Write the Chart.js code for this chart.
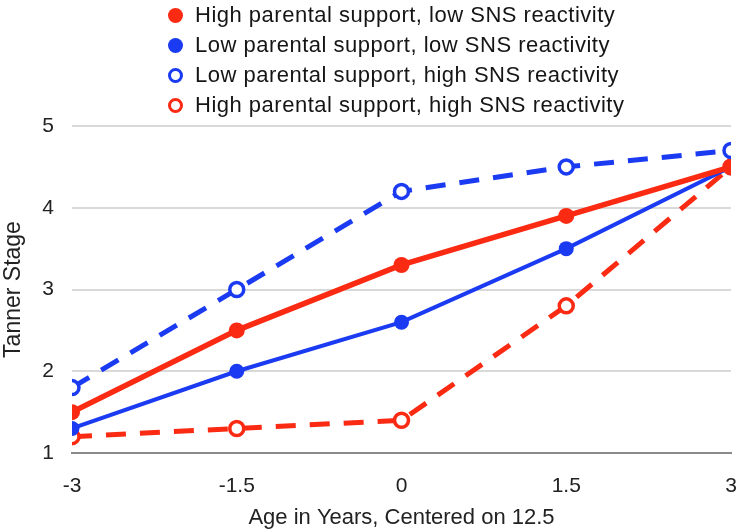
<!DOCTYPE html>
<html>
<head>
<meta charset="utf-8">
<script src="https://cdn.jsdelivr.net/npm/chart.js@4"></script>
<style>
    html, body { margin: 0; padding: 0; background: #fff; }
    #wrap { position: relative; width: 746px; height: 531px; }
    #legend {
        position: absolute; left: 168px; top: 0px;
        font-family: "Liberation Sans", Arial, sans-serif; font-size: 22px; letter-spacing: 0.5px; color: #151515;
    }
    .item { height: 30px; line-height: 30px; display: flex; align-items: center; }
    .dot { width: 15px; height: 15px; border-radius: 50%; box-sizing: border-box; margin-right: 12px; }
</style>
</head>
<body>
<div id="wrap">
    <canvas id="chart" width="746" height="531"></canvas>
    <div id="legend"></div>
</div>
<script>
// Tanner stage by age, four groups
const ages = [-3, -1.5, 0, 1.5, 3];
const seriesNames = [
    'High parental support, low SNS reactivity',
    'Low parental support, low SNS reactivity',
    'Low parental support, high SNS reactivity',
    'High parental support, high SNS reactivity'
];
const highPsLowSns = [1.5, 2.5, 3.3, 3.9, 4.5];
const lowPsLowSns = [1.3, 2.0, 2.6, 3.5, 4.5];
const lowPsHighSns = [1.8, 3.0, 4.2, 4.5, 4.7];
const highPsHighSns = [1.2, 1.3, 1.4, 2.8, 4.5];
const yTicks = [1, 2, 3, 4, 5];

const RED = '#fb2a12';
const BLUE = '#1b3bf2';
const FONT = '"Liberation Sans", Arial, sans-serif';

function pts(vals) {
    return vals.map((v, i) => ({ x: ages[i], y: v }));
}

const datasets = [
    {
        label: seriesNames[0], data: pts(highPsLowSns),
        borderColor: RED, backgroundColor: RED, borderWidth: 5.5,
        pointRadius: 8, pointBackgroundColor: RED, pointBorderWidth: 0, filled: true
    },
    {
        label: seriesNames[1], data: pts(lowPsLowSns),
        borderColor: BLUE, backgroundColor: BLUE, borderWidth: 4,
        pointRadius: 7.5, pointBackgroundColor: BLUE, pointBorderWidth: 0, filled: true
    },
    {
        label: seriesNames[2], data: pts(lowPsHighSns),
        borderColor: BLUE, backgroundColor: '#fff', borderWidth: 5, borderDash: [20, 14],
        pointRadius: 7, pointBackgroundColor: '#fff', pointBorderColor: BLUE, pointBorderWidth: 3.5, filled: false
    },
    {
        label: seriesNames[3], data: pts(highPsHighSns),
        borderColor: RED, backgroundColor: '#fff', borderWidth: 5, borderDash: [20, 14],
        pointRadius: 7, pointBackgroundColor: '#fff', pointBorderColor: RED, pointBorderWidth: 3.5, filled: false
    }
];

const chart = new Chart(document.getElementById('chart'), {
    type: 'line',
    data: { datasets: datasets },
    options: {
        responsive: false,
        animation: false,
        layout: { autoPadding: false, padding: { top: 126, right: 15, left: 0, bottom: 0 } },
        plugins: { legend: { display: false }, tooltip: { enabled: false } },
        scales: {
            x: {
                type: 'linear', min: -3, max: 3,
                afterBuildTicks: s => { s.ticks = ages.map(v => ({ value: v })); },
                afterFit: s => { s.height = 78; s.paddingRight = 0; s.paddingLeft = 0; },
                grid: { display: false },
                border: { display: true, color: '#8a8a8a', width: 2 },
                ticks: { color: '#222', font: { family: FONT, size: 21 }, padding: 13, autoSkip: false, maxRotation: 0 },
                title: { display: true, text: 'Age in Years, Centered on 12.5', color: '#222', font: { family: FONT, size: 22 }, padding: { top: 0, bottom: 0 } }
            },
            y: {
                min: 1, max: 5,
                afterBuildTicks: s => { s.ticks = yTicks.map(v => ({ value: v })); },
                afterFit: s => { s.width = 72; },
                grid: { color: '#d9d9d9', lineWidth: 2, drawTicks: false },
                border: { display: false },
                ticks: { color: '#222', font: { family: FONT, size: 21 }, padding: 18 },
                title: { display: true, text: 'Tanner Stage', color: '#222', font: { family: FONT, size: 23 }, padding: 0 }
            }
        }
    }
});

// HTML legend built from the datasets
const legend = document.getElementById('legend');
chart.data.datasets.forEach(ds => {
    const row = document.createElement('div');
    row.className = 'item';
    const dot = document.createElement('span');
    dot.className = 'dot';
    if (ds.filled) {
        dot.style.background = ds.borderColor;
    } else {
        dot.style.background = '#fff';
        dot.style.border = '3px solid ' + ds.borderColor;
    }
    const txt = document.createElement('span');
    txt.textContent = ds.label;
    row.appendChild(dot);
    row.appendChild(txt);
    legend.appendChild(row);
});
</script>
</body>
</html>
